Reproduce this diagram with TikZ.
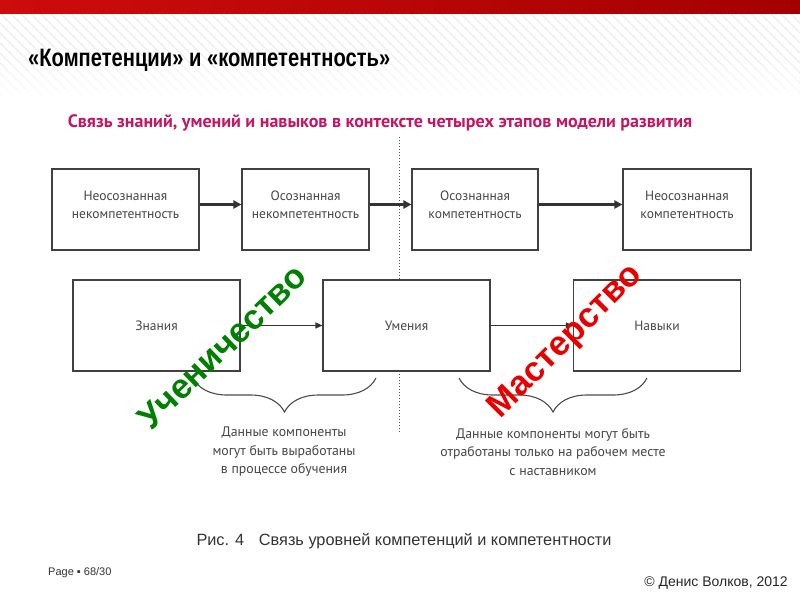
\documentclass[tikz,border=0pt]{standalone}
\usepackage{fontspec}
\setmainfont{PT Sans}
\newfontfamily\arialfont{Liberation Sans}
\newfontfamily\narrowfont[FakeStretch=0.8]{Liberation Sans}
\usetikzlibrary{arrows.meta,decorations.pathreplacing,fadings}
\definecolor{boxtext}{RGB}{70,70,70}
\definecolor{subtitle}{RGB}{196,22,98}
\definecolor{ugreen}{RGB}{0,128,0}
\definecolor{mred}{RGB}{232,0,0}
\definecolor{barL}{RGB}{205,12,12}
\definecolor{barR}{RGB}{165,0,0}
\tikzset{
  box/.style={draw=black!75, line width=1.1pt, fill=white, text=boxtext,
    align=center, inner sep=0pt, font=\fontsize{13.5}{18}\selectfont},
  topbox/.style={box, minimum height=81pt, text height=20pt, text depth=3pt},
  botbox/.style={box, minimum width=167pt, minimum height=91pt},
  toparrow/.style={draw=black!80, line width=2.2pt, -{Triangle[length=8pt,width=8pt]}},
  botarrow/.style={draw=black!80, line width=1.2pt, -{Triangle[length=7pt,width=6pt]}},
  bracestyle/.style={draw=black!70, line width=1.1pt, decorate,
    decoration={brace, amplitude=34pt}},
  note/.style={text=boxtext, align=center, font=\fontsize{13.8}{18.5}\selectfont},
  bigword/.style={font=\arialfont\bfseries\fontsize{34.5}{34.5}\selectfont, inner sep=0pt}
}
\begin{document}
\begin{tikzpicture}[x=1pt,y=-1pt]
\useasboundingbox (0,0) rectangle (800,600);
\fill[white] (0,0) rectangle (800,600);
% header stripes
\begin{scope}
  \clip (0,13) rectangle (800,100);
  \foreach \i in {0,10,...,900} \draw[black!7, line width=1.4pt] (\i-100,13) -- (\i,113);
\end{scope}
\fill[white, path fading=north] (0,55) rectangle (800,101);
% red bar
\shade[left color=barL, right color=barR] (0,0) rectangle (800,13);
% title
\node[anchor=base west, inner sep=0pt, font=\narrowfont\bfseries\fontsize{25.2}{25.2}\selectfont] (title) at (28,66) {«Компетенции» и «компетентность»};
% subtitle
\node[inner sep=0pt, text=subtitle, font=\bfseries\fontsize{18}{18}\selectfont] (sub) at (380,123) {Связь знаний, умений и навыков в контексте четырех этапов модели развития};
% dotted separator
\coordinate (dtop) at (399,137);
\coordinate (dbot) at (399,432);
\draw[black!70, line width=1pt, dotted] (dtop) -- (dbot);
% top row
\node[topbox, minimum width=147pt] (b1) at (125.5,209.5) {Неосознанная\\некомпетентность};
\node[topbox, minimum width=127pt] (b2) at (305.5,209.5) {Осознанная\\некомпетентность};
\node[topbox, minimum width=126pt] (b3) at (475,209.5) {Осознанная\\компетентность};
\node[topbox, minimum width=128pt] (b4) at (687,209.5) {Неосознанная\\компетентность};
\draw[toparrow] ([yshift=5pt]b1.east) -- ([yshift=5pt]b2.west);
\draw[toparrow] ([yshift=5pt]b2.east) -- ([yshift=5pt]b3.west);
\draw[toparrow] ([yshift=5pt]b3.east) -- ([yshift=5pt]b4.west);
% bottom row
\node[botbox] (z) at (156.5,325.5) {Знания};
\node[botbox] (u) at (406.5,325.5) {Умения};
\node[botbox] (n) at (657,325.5) {Навыки};
\draw[botarrow] (z) -- (u);
\draw[botarrow] (u) -- (n);
% braces
\coordinate (lb1) at (376,378);
\coordinate (lb2) at (193,378);
\coordinate (rb1) at (647,378);
\coordinate (rb2) at (459,378);
\draw[bracestyle] (lb1) -- (lb2);
\draw[bracestyle] (rb1) -- (rb2);
\node[note] (nl) at (284,452) {Данные компоненты\\могут быть выработаны\\в процессе обучения};
\node[note] (nr) at (553,452) {Данные компоненты могут быть\\отработаны только на рабочем месте\\с наставником};
% big diagonal words
\node[bigword, text=ugreen, rotate=44] (uch) at (222,347) {Ученичество};
\node[bigword, text=mred, rotate=45] (mas) at (566,342) {Мастерство};
% caption and footer
\node[inner sep=0pt, text=black!80, font=\arialfont\fontsize{16.3}{16.3}\selectfont] (cap) at (404,541) {Рис. 4\hspace{0.9em}Связь уровней компетенций и компетентности};
\node[anchor=west, inner sep=0pt, text=black!80, font=\arialfont\fontsize{11}{11}\selectfont] (page) at (48,573) {Page ▪ 68/30};
\node[anchor=east, inner sep=0pt, text=black!85, font=\arialfont\fontsize{14}{14}\selectfont] (copy) at (788,583) {© Денис Волков, 2012};
\end{tikzpicture}
\end{document}
